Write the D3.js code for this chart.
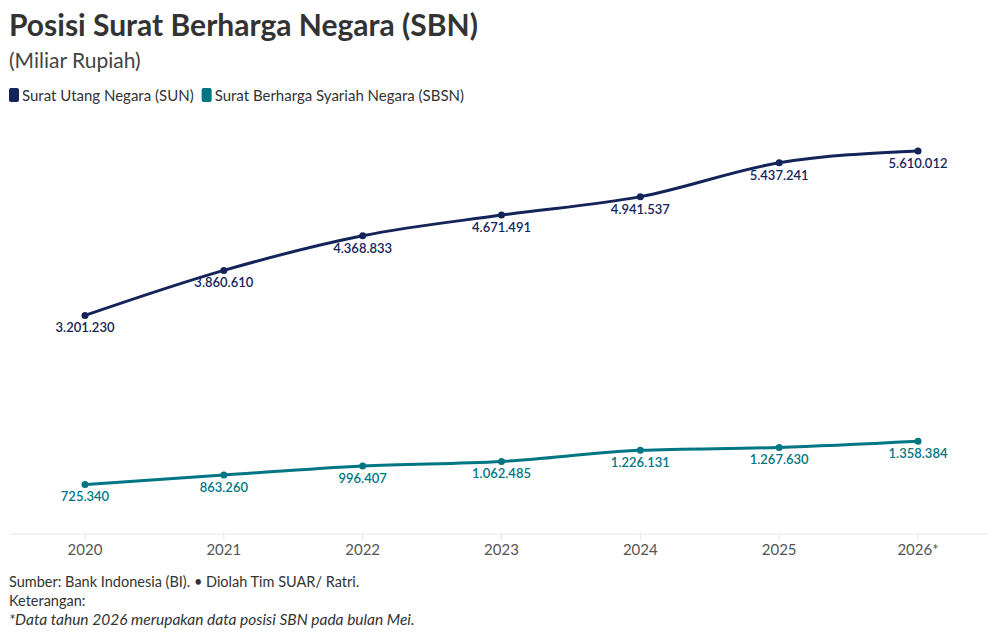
<!DOCTYPE html>
<html lang="en">
<head>
<meta charset="utf-8">
<title>Posisi SBN</title>
<script src="https://cdn.jsdelivr.net/npm/d3@7"></script>
<style>
body{margin:0;background:#fff;font-family:Lato, "Open Sans", sans-serif;}
</style>
</head>
<body>
<div id="chart"></div>
<script>
// data
var years = ["2020","2021","2022","2023","2024","2025","2026*"]
var sun = [3201230, 3860610, 4368833, 4671491, 4941537, 5437241, 5610012]
var sbsn = [725340, 863260, 996407, 1062485, 1226131, 1267630, 1358384]
var seriesNames = ["Surat Utang Negara (SUN)", "Surat Berharga Syariah Negara (SBSN)"]
var colors = ["#14245a", "#007684"]

var w = 1000, h = 639
var svg = d3.select("#chart").append("svg").attr("width", w).attr("height", h)

var x = d3.scalePoint().domain(years).range([85, 918])
var y = d3.scaleLinear().domain([0, 5610012]).range([534, 151])
var fmt = function(v){ return d3.format(",")(v).replace(/,/g, ".") }

// title
svg.append("text").attr("x", 9).attr("y", 36).attr("font-size", 30).attr("font-weight", 700)
    .attr("fill", "#333").text("Posisi Surat Berharga Negara (SBN)")
svg.append("text").attr("x", 9).attr("y", 68).attr("font-size", 21).attr("fill", "#444")
    .text("(Miliar Rupiah)")

// legend
var lx = 9
seriesNames.forEach(function(name, i){
    var g = svg.append("g")
    g.append("rect").attr("x", lx).attr("y", 88).attr("width", 10).attr("height", 14).attr("rx", 2).attr("fill", colors[i])
    var t = g.append("text").attr("x", lx + 13).attr("y", 101).attr("font-size", 15).attr("fill", "#333").text(name)
    lx += 13 + t.node().getComputedTextLength() + 8
})

// axis
var axis = svg.append("g").attr("transform", "translate(0,534)")
axis.append("line").attr("x1", 10).attr("x2", 988).attr("stroke", "#e6e6e6")
axis.selectAll(".tick").data(years).enter().append("line")
    .attr("x1", function(d){ return x(d) }).attr("x2", function(d){ return x(d) })
    .attr("y1", 0).attr("y2", 6).attr("stroke", "#e6e6e6")
axis.selectAll("text").data(years).enter().append("text")
    .attr("x", function(d){ return x(d) }).attr("y", 21)
    .attr("text-anchor", "middle").attr("font-size", 15).attr("fill", "#555")
    .text(function(d){ return d })

var line = d3.line().curve(d3.curveMonotoneX)
    .x(function(d, i){ return x(years[i]) })
    .y(function(d){ return y(d) })

;[sun, sbsn].forEach(function(vals, s){
    svg.append("path").datum(vals).attr("d", line).attr("fill", "none")
        .attr("stroke", colors[s]).attr("stroke-width", 3)
    svg.selectAll(".pt" + s).data(vals).enter().append("circle")
        .attr("cx", function(d, i){ return x(years[i]) }).attr("cy", function(d){ return y(d) })
        .attr("r", 3.5).attr("fill", colors[s])
    svg.selectAll(".lb" + s).data(vals).enter().append("text")
        .attr("x", function(d, i){ return x(years[i]) }).attr("y", function(d){ return y(d) + 17 })
        .attr("text-anchor", "middle").attr("font-size", 13).attr("font-weight", 600)
        .attr("fill", colors[s]).text(function(d){ return fmt(d) })
})

// footer
var foot = ["Sumber: Bank Indonesia (BI). \u2022 Diolah Tim SUAR/ Ratri.", "Keterangan:"]
foot.forEach(function(t, i){
    svg.append("text").attr("x", 9).attr("y", 587 + i * 19).attr("font-size", 14.5).attr("fill", "#333").text(t)
})
svg.append("text").attr("x", 9).attr("y", 625).attr("font-size", 15.5).attr("font-style", "italic")
    .attr("fill", "#333").text("*Data tahun 2026 merupakan data posisi SBN pada bulan Mei.")
</script>
</body>
</html>
